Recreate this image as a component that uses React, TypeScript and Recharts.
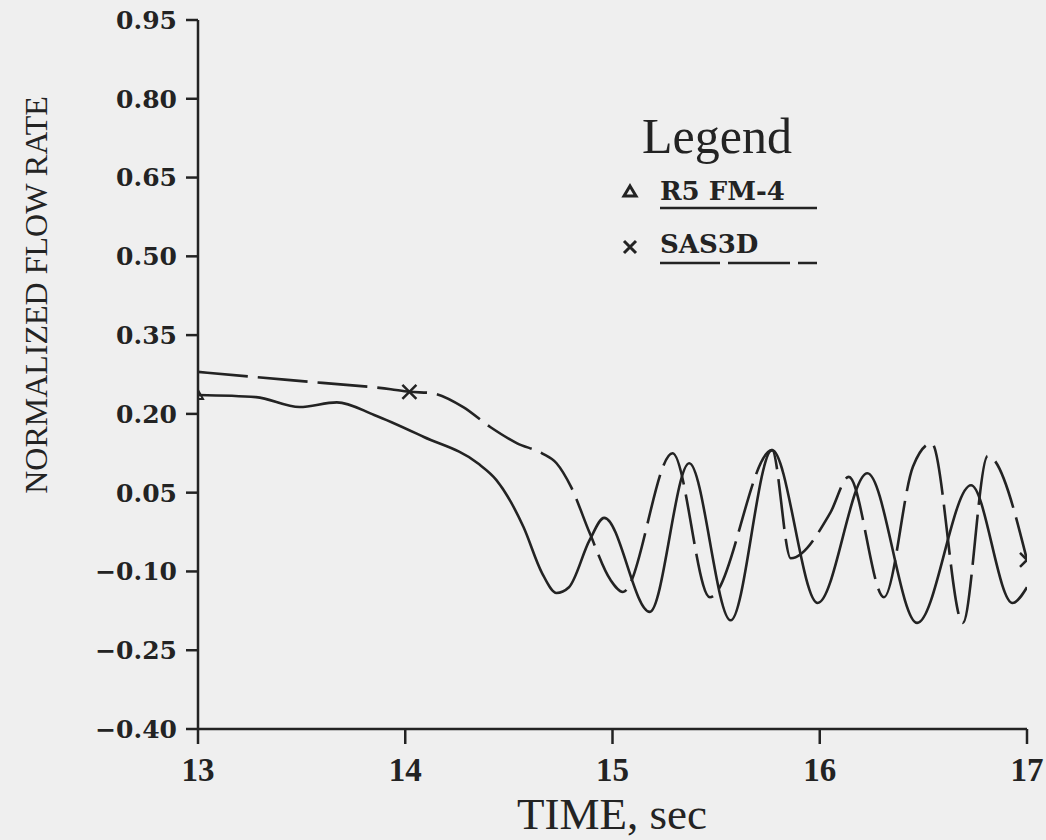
import { LineChart, Line, XAxis, YAxis } from 'recharts';

// R5 FM-4 (solid)
const r5Time = [13.0, 13.28, 13.49, 13.67, 13.85, 14.09, 14.35, 14.44, 14.57, 14.66, 14.73, 14.79, 14.89, 14.96, 15.18, 15.37, 15.57, 15.77, 15.99, 16.23, 16.47, 16.73, 16.93, 17.0];
const r5Flow = [0.236, 0.232, 0.213, 0.222, 0.198, 0.156, 0.106, 0.074, -0.015, -0.103, -0.141, -0.13, -0.04, 0.002, -0.177, 0.106, -0.193, 0.131, -0.16, 0.087, -0.198, 0.064, -0.16, -0.13];

// SAS3D (dashed)
const sasTime = [13.0, 13.28, 13.6, 13.93, 14.02, 14.12, 14.28, 14.41, 14.54, 14.66, 14.73, 14.8, 14.89, 14.99, 15.05, 15.29, 15.47, 15.77, 15.86, 16.05, 16.14, 16.31, 16.45, 16.54, 16.69, 16.81, 17.0];
const sasFlow = [0.28, 0.27, 0.259, 0.247, 0.242, 0.24, 0.213, 0.175, 0.144, 0.125, 0.106, 0.061, -0.027, -0.116, -0.139, 0.125, -0.149, 0.131, -0.075, 0.011, 0.08, -0.149, 0.1, 0.144, -0.198, 0.12, -0.078];

// symbols drawn on the curves
const r5Marks = [13.0];
const sasMarks = [14.02, 17.0];

const xTicks = [13, 14, 15, 16, 17];
const yTicks = [-0.4, -0.25, -0.1, 0.05, 0.2, 0.35, 0.5, 0.65, 0.8, 0.95];

const INK = '#232323';
const BG = '#efefef';

const r5Data = r5Time.map((t, i) => ({ t, v: r5Flow[i] }));
const sasData = sasTime.map((t, i) => ({ t, v: sasFlow[i] }));

const TriangleDot = (props: any) => {
    const { cx, cy, payload } = props;
    if (!r5Marks.includes(payload.t)) return <g key={`r5-${payload.t}`} />;
    return <path key={`r5-${payload.t}`} d={`M${cx},${cy - 5} L${cx + 5},${cy + 4} L${cx - 5},${cy + 4} Z`} fill="none" stroke={INK} strokeWidth={2} />;
};

const CrossDot = (props: any) => {
    const { cx, cy, payload } = props;
    if (!sasMarks.includes(payload.t)) return <g key={`sas-${payload.t}`} />;
    return (
        <path key={`sas-${payload.t}`} d={`M${cx - 7},${cy - 7} L${cx + 7},${cy + 7} M${cx + 7},${cy - 7} L${cx - 7},${cy + 7}`} stroke={INK} strokeWidth={2.5} />
    );
};

const fmtY = (v: number) => v.toFixed(2).replace('-', '\u2212');

export default function App() {
    return (
        <div style={{ position: 'absolute', left: 0, top: 0, width: 1046, height: 840, background: BG }}>
            <LineChart width={1046} height={840} margin={{ top: 20, right: 19, left: 98, bottom: 51 }}>
                <XAxis
                    type="number"
                    dataKey="t"
                    domain={[13, 17]}
                    ticks={xTicks}
                    allowDataOverflow
                    stroke={INK}
                    strokeWidth={2.5}
                    tickSize={15}
                    tickMargin={14}
                    height={60}
                    tick={{ fontFamily: 'Liberation Serif', fontSize: 33, fontWeight: 'bold', fill: INK }}
                    label={{
                        content: () => (
                            <text x={612} y={829} textAnchor="middle" fontFamily="Liberation Serif" fontSize={45} fill={INK}>TIME, sec</text>
                        )
                    }}
                />
                <YAxis
                    type="number"
                    dataKey="v"
                    domain={[-0.4, 0.95]}
                    ticks={yTicks}
                    allowDataOverflow
                    width={100}
                    stroke={INK}
                    strokeWidth={2.5}
                    tickSize={12}
                    tickMargin={9}
                    tickFormatter={fmtY}
                    tick={{ fontFamily: 'DejaVu Serif', fontSize: 25, fontWeight: 'bold', fill: INK }}
                    label={{
                        content: () => (
                            <text x={47} y={295} transform="rotate(-90 47 295)" textAnchor="middle" fontFamily="Liberation Serif" fontSize={32} fill={INK}>NORMALIZED FLOW RATE</text>
                        )
                    }}
                />
                <Line data={r5Data} dataKey="v" type="monotone" stroke={INK} strokeWidth={2.6} dot={TriangleDot} activeDot={false} isAnimationActive={false} name="R5 FM-4" />
                <Line data={sasData} dataKey="v" type="monotone" stroke={INK} strokeWidth={2.6} strokeDasharray="50 10" dot={CrossDot} activeDot={false} isAnimationActive={false} name="SAS3D" />
            </LineChart>
            <svg width={260} height={180} style={{ position: 'absolute', left: 610, top: 100 }}>
                <text x={32} y={53} fontFamily="Liberation Serif" fontSize={50} fill={INK}>Legend</text>
                <path d="M20,86 L26,96 L14,96 Z" fill="none" stroke={INK} strokeWidth={3} />
                <text x={50} y={100} fontFamily="DejaVu Serif" fontSize={26} fontWeight="bold" fill={INK}>R5 FM-4</text>
                <line x1={50} x2={207} y1={108} y2={108} stroke={INK} strokeWidth={2.5} />
                <path d="M14,141 L26,153 M26,141 L14,153" stroke={INK} strokeWidth={3} />
                <text x={50} y={153} fontFamily="DejaVu Serif" fontSize={26} fontWeight="bold" fill={INK}>SAS3D</text>
                <line x1={50} x2={207} y1={163} y2={163} stroke={INK} strokeWidth={2.5} strokeDasharray="60 8 62 8" />
            </svg>
        </div>
    );
}
